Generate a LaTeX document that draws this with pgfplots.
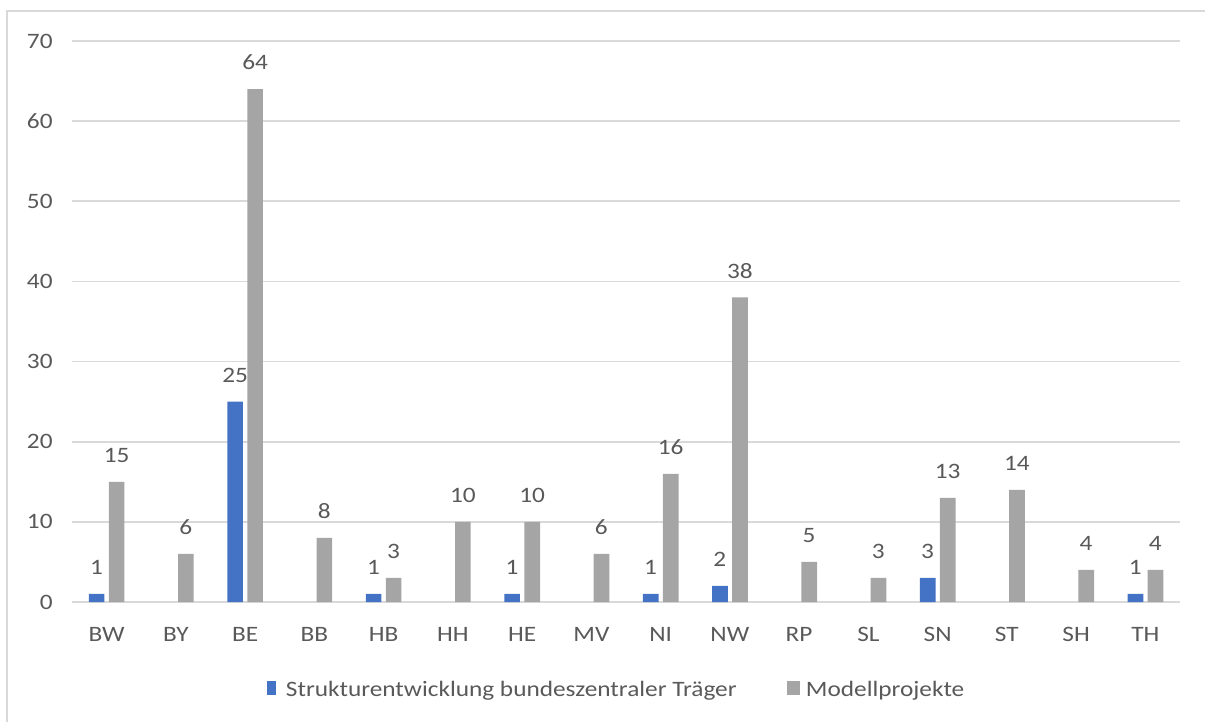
\documentclass[border=0pt]{standalone}
\usepackage{fontspec}
\setmainfont{Carlito}[FakeStretch=1.15]
\usepackage{pgfplots}
\pgfplotsset{compat=1.18}
\definecolor{txt}{HTML}{595959}
\definecolor{gridc}{HTML}{D9D9D9}
\definecolor{sblue}{HTML}{4472C4}
\definecolor{sgray}{HTML}{A5A5A5}
\newcommand{\cf}{\fontsize{16.5}{19}\selectfont}
\begin{document}
\begin{tikzpicture}[x=0.75pt,y=0.75pt]
\path[use as bounding box] (0,0) rectangle (1205,722);
\draw[gridc, line width=1.1pt] (7,0) -- (7,711) -- (1205,711);
\begin{axis}[
  at={(54pt,90pt)}, anchor=south west,
  scale only axis, width=831pt, height=420.75pt,
  ymin=0, ymax=70, ytick={0,10,...,70},
  xmin=-0.5, xmax=15.5, xtick={0,...,15},
  xticklabels={BW,BY,BE,BB,HB,HH,HE,MV,NI,NW,RP,SL,SN,ST,SH,TH},
  axis line style={draw=none},
  major tick length=0pt,
  ymajorgrids, grid style={gridc, line width=1.2pt},
  /pgf/number format/assume math mode=true,
  tick label style={font=\cf, text=txt},
  yticklabel style={xshift=-11pt},
  xticklabel style={anchor=base, yshift=-29.25pt},
  ybar=3.2pt, bar width=11.8pt,
  nodes near coords,
  nodes near coords style={font=\cf, text=txt, anchor=base, yshift=14.5pt},
  legend style={at={(0.1724,-0.157)}, anchor=west, draw=none, fill=none,
    font=\cf, text=txt,
    /tikz/every even column/.append style={column sep=36pt}},
  legend columns=2,
]
\addplot[draw=none, fill=sblue,
  legend image code/.code={\fill[sblue] (0pt,-4pt) rectangle (6.75pt,6.5pt); \path (12pt,0pt);}]
  coordinates {(0,1) (2,25) (4,1) (6,1) (8,1) (9,2) (12,3) (15,1)};
\addlegendentry{Strukturentwicklung bundeszentraler Träger}
\addplot[draw=none, fill=sgray,
  legend image code/.code={\fill[sgray] (0pt,-4pt) rectangle (9.75pt,6.5pt); \path (12pt,0pt);}]
  coordinates {(0,15) (1,6) (2,64) (3,8) (4,3) (5,10) (6,10) (7,6) (8,16) (9,38) (10,5) (11,3) (12,13) (13,14) (14,4) (15,4)};
\addlegendentry{Modellprojekte}
\end{axis}
\end{tikzpicture}
\end{document}
